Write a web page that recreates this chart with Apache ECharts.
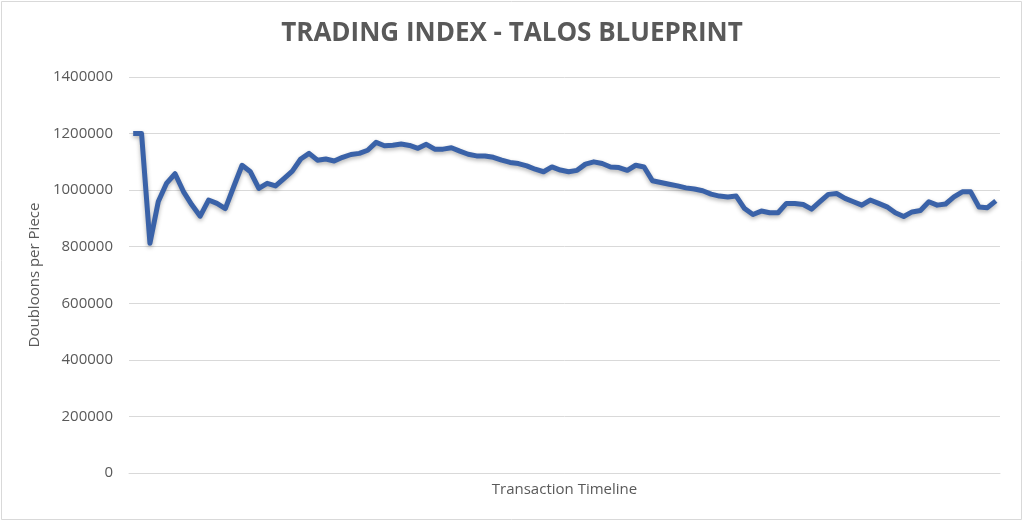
<!DOCTYPE html>
<html lang="en">
<head>
    <meta charset="UTF-8">
    <title>Trading Index - Talos Blueprint</title>
    <script src="https://cdn.jsdelivr.net/npm/echarts@6/dist/echarts.min.js"></script>
    <style>
        html, body { margin: 0; padding: 0; background: #fff; }
        #main { width: 1024px; height: 522px; }
    </style>
</head>
<body>
<div id="main"></div>
<script>
    // price per piece, one value per transaction
    var prices = [
        1200000, 1200000, 812000, 960000, 1025000, 1058000, 995000, 948000, 908000, 965000,
        953000, 935000, 1012000, 1088000, 1065000, 1006000, 1024000, 1015000, 1041000, 1067000,
        1110000, 1130000, 1106000, 1110000, 1103000, 1116000, 1126000, 1130000, 1141000, 1169000,
        1157000, 1159000, 1163000, 1158000, 1148000, 1162000, 1145000, 1145000, 1150000, 1138000,
        1127000, 1121000, 1121000, 1116000, 1106000, 1098000, 1094000, 1086000, 1074000, 1065000,
        1082000, 1071000, 1065000, 1070000, 1092000, 1100000, 1094000, 1082000, 1080000, 1070000,
        1088000, 1082000, 1033000, 1027000, 1021000, 1015000, 1008000, 1004000, 998000, 986000,
        979000, 976000, 979000, 935000, 914000, 926000, 920000, 920000, 953000, 953000,
        949000, 933000, 959000, 985000, 988000, 971000, 959000, 947000, 965000, 953000,
        941000, 920000, 907000, 923000, 928000, 959000, 947000, 951000, 976000, 994000,
        994000, 940000, 938000, 962000
    ];
    // transactions have no labels on the axis, just their order
    var transactions = prices.map(function (v, i) { return String(i + 1); });
    var yTicks = { min: 0, max: 1400000, step: 200000 };

    var myChart = echarts.init(document.getElementById('main'));
    var font = '"Open Sans", "Noto Sans", sans-serif';

    var option = {
        backgroundColor: '#ffffff',
        animation: false,
        title: {
            text: 'TRADING INDEX - TALOS BLUEPRINT',
            left: 'center',
            top: 16,
            textStyle: {
                color: '#595959',
                fontFamily: font,
                fontWeight: 'bold',
                fontSize: 26
            }
        },
        graphic: [{
            type: 'rect',
            shape: { x: 1.5, y: 1.5, width: 1020, height: 518 },
            style: { fill: 'none', stroke: '#d9d9d9', lineWidth: 1 },
            silent: true
        }],
        grid: {
            left: 129,
            right: 24,
            top: 77,
            bottom: 49
        },
        xAxis: {
            type: 'category',
            boundaryGap: true,
            data: transactions,
            name: 'Transaction Timeline',
            nameLocation: 'middle',
            nameGap: 9,
            nameTextStyle: { color: '#595959', fontFamily: font, fontSize: 15 },
            axisLine: { show: true, lineStyle: { color: '#d9d9d9', width: 1 } },
            axisTick: { show: false },
            axisLabel: { show: false },
            splitLine: { show: false }
        },
        yAxis: {
            type: 'value',
            min: yTicks.min,
            max: yTicks.max,
            interval: yTicks.step,
            name: 'Doubloons per Piece',
            nameLocation: 'middle',
            nameGap: 78,
            nameRotate: 90,
            nameTextStyle: { color: '#595959', fontFamily: font, fontSize: 15 },
            axisLine: { show: false },
            axisTick: { show: false },
            axisLabel: {
                color: '#595959',
                fontFamily: font,
                fontSize: 15,
                margin: 16,
                formatter: function (v) { return String(v); }
            },
            splitLine: { lineStyle: { color: '#d9d9d9', width: 1 } }
        },
        series: [{
            name: 'Doubloons per Piece',
            type: 'line',
            data: prices,
            symbol: 'none',
            smooth: false,
            lineStyle: {
                color: '#3a62a8',
                width: 5,
                join: 'round',
                shadowColor: 'rgba(0,0,0,0.3)',
                shadowBlur: 4,
                shadowOffsetY: 2
            },
            itemStyle: { color: '#3a62a8' }
        }]
    };
    myChart.setOption(option);
</script>
</body>
</html>
